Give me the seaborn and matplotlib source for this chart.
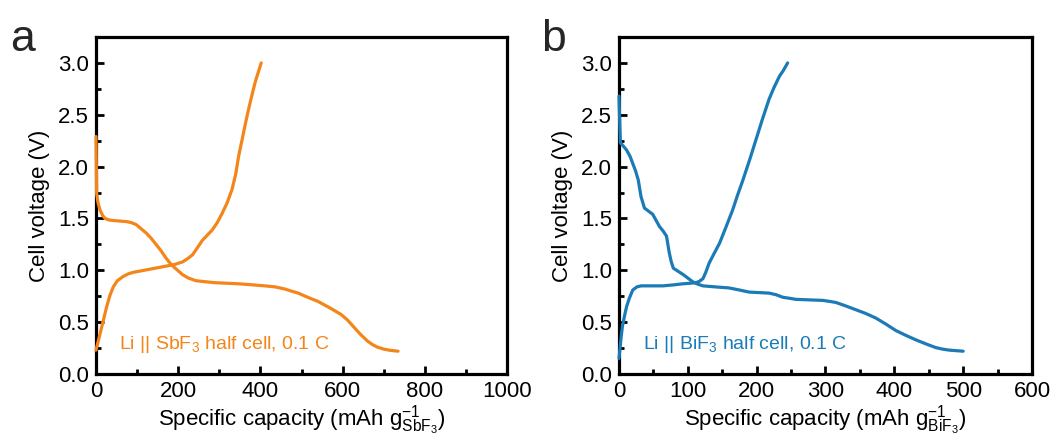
import numpy as np
import pandas as pd
import matplotlib
matplotlib.use("Agg")
import matplotlib.pyplot as plt
import seaborn as sns
from matplotlib.ticker import MultipleLocator, FormatStrFormatter

# ---- data ----
sb_dis_x = [0, 0.8, 1.6, 5, 10, 16, 22, 32, 42, 58, 74, 86, 98, 110, 122, 134, 146, 158, 170, 180, 190, 200, 210, 225, 243, 265, 291, 320, 347, 380, 411, 436, 459, 475, 492, 515, 540, 568, 596, 612, 628, 644, 660, 672, 684, 700, 716, 735]
sb_dis_v = [2.29, 2.0, 1.74, 1.65, 1.58, 1.53, 1.50, 1.485, 1.48, 1.475, 1.47, 1.46, 1.44, 1.40, 1.36, 1.31, 1.25, 1.19, 1.12, 1.07, 1.03, 0.995, 0.96, 0.925, 0.90, 0.89, 0.88, 0.875, 0.87, 0.86, 0.85, 0.84, 0.82, 0.80, 0.78, 0.74, 0.70, 0.64, 0.575, 0.52, 0.45, 0.38, 0.32, 0.285, 0.26, 0.24, 0.228, 0.22]
sb_chg_x = [0, 5, 10, 18, 26, 34, 42, 52, 66, 78, 90, 110, 130, 150, 170, 190, 210, 222, 235, 247, 259, 271, 283, 295, 307, 319, 331, 340, 347, 357, 367, 377, 387, 394, 402]
sb_chg_v = [0.23, 0.31, 0.39, 0.52, 0.65, 0.76, 0.84, 0.90, 0.94, 0.965, 0.98, 0.995, 1.01, 1.025, 1.04, 1.055, 1.08, 1.11, 1.15, 1.22, 1.29, 1.34, 1.39, 1.46, 1.55, 1.65, 1.78, 1.93, 2.10, 2.29, 2.48, 2.65, 2.81, 2.90, 3.00]

bi_dis_x = [0, 0.5, 1, 1.5, 2, 6, 11, 16, 20, 24, 28, 32, 37, 43, 49, 54, 59, 64, 69, 71, 73, 76, 79, 86, 93, 100, 107, 115, 122, 140, 160, 175, 189, 204, 218, 228, 238, 248, 257, 276, 296, 306, 315, 330, 344, 358, 373, 388, 402, 416, 431, 446, 460, 470, 480, 490, 500]
bi_dis_v = [2.68, 2.55, 2.45, 2.33, 2.23, 2.20, 2.16, 2.10, 2.03, 1.96, 1.87, 1.71, 1.60, 1.57, 1.54, 1.48, 1.42, 1.38, 1.33, 1.25, 1.17, 1.08, 1.02, 0.99, 0.96, 0.925, 0.89, 0.865, 0.85, 0.84, 0.83, 0.81, 0.79, 0.785, 0.78, 0.765, 0.74, 0.73, 0.72, 0.715, 0.71, 0.70, 0.69, 0.655, 0.62, 0.585, 0.54, 0.48, 0.42, 0.375, 0.33, 0.29, 0.255, 0.24, 0.23, 0.225, 0.22]
bi_chg_x = [0, 1.5, 3, 5, 8, 11, 15, 20, 26, 32, 48, 64, 80, 93, 103, 112, 117, 122, 126, 131, 138, 146, 155, 165, 172, 180, 190, 199, 208, 218, 225, 233, 239, 245]
bi_chg_v = [0.15, 0.25, 0.35, 0.46, 0.56, 0.65, 0.73, 0.81, 0.84, 0.85, 0.85, 0.85, 0.86, 0.87, 0.875, 0.88, 0.895, 0.92, 0.98, 1.07, 1.16, 1.26, 1.41, 1.58, 1.72, 1.87, 2.07, 2.26, 2.45, 2.65, 2.76, 2.87, 2.93, 3.00]

orange = "#F4851A"
blue = "#1A7BB6"

sns.set_theme(style="white")
plt.rcParams['font.family'] = ['Liberation Sans', 'DejaVu Sans']
plt.rcParams['mathtext.fontset'] = 'custom'
plt.rcParams['mathtext.rm'] = 'Liberation Sans'
plt.rcParams['mathtext.it'] = 'Liberation Sans'
plt.rcParams['mathtext.bf'] = 'Liberation Sans'

fig = plt.figure(figsize=(10.59, 4.37), dpi=100)
axA = fig.add_axes([96/1059, 63/437, 411/1059, 337/437])
axB = fig.add_axes([619/1059, 63/437, 413/1059, 337/437])

def seg(x, v, name):
    return pd.DataFrame({"x": x, "v": v, "seg": name})

dfA = pd.concat([seg(sb_dis_x, sb_dis_v, "dis"), seg(sb_chg_x, sb_chg_v, "chg")])
dfB = pd.concat([seg(bi_dis_x, bi_dis_v, "dis"), seg(bi_chg_x, bi_chg_v, "chg")])

FS = 16
for ax, df, col, xmax, xmaj, label, sub in [
    (axA, dfA, orange, 1000, 200, r"Li || SbF$_3$ half cell, 0.1 C", "SbF_3"),
    (axB, dfB, blue, 600, 100, r"Li || BiF$_3$ half cell, 0.1 C", "BiF_3"),
]:
    sns.lineplot(data=df, x="x", y="v", units="seg", estimator=None, sort=False,
                 color=col, lw=2.3, ax=ax, legend=False)
    for ln in ax.get_lines():
        ln.set_clip_on(False)
        ln.set_solid_joinstyle("round")
        ln.set_solid_capstyle("round")
    ax.set_xlim(0, xmax)
    ax.set_ylim(0, 3.25)
    ax.xaxis.set_major_locator(MultipleLocator(xmaj))
    ax.xaxis.set_minor_locator(MultipleLocator(xmaj / 2))
    ax.yaxis.set_major_locator(MultipleLocator(0.5))
    ax.yaxis.set_minor_locator(MultipleLocator(0.25))
    ax.tick_params(which="both", direction="in", top=False, right=False,
                   bottom=True, left=True, width=2, labelsize=FS, color="black",
                   labelcolor="black")
    ax.tick_params(which="major", length=6, pad=5)
    ax.tick_params(which="minor", length=3.5)
    ax.yaxis.set_major_formatter(FormatStrFormatter("%.1f"))
    for s in ax.spines.values():
        s.set_linewidth(2.3)
        s.set_color("black")
        s.set_zorder(1)
    ax.set_xlabel(r"Specific capacity (mAh g$^{-1}_{\mathrm{%s}}$)" % sub, fontsize=FS,
                  labelpad=1, color="black")
    ax.set_ylabel("Cell voltage (V)", fontsize=FS, labelpad=6, color="black")
    ax.text(0.057, 0.088, label, transform=ax.transAxes, color=col, fontsize=14,
            va="center", ha="left")
    ax.grid(False)

fig.text(10/1059, 1 - 51/437, "a", fontsize=32, va="baseline", ha="left")
fig.text(541/1059, 1 - 51/437, "b", fontsize=32, va="baseline", ha="left")

fig.savefig("out.png", dpi=100)
